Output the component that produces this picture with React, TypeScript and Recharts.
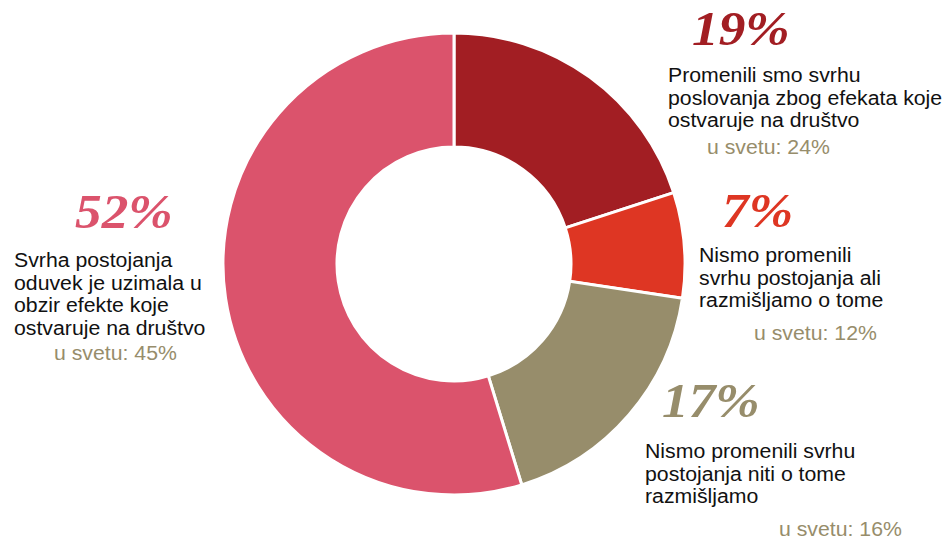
import React from 'react';
import { PieChart, Pie, Cell } from 'recharts';

const labels = [
  'Promenili smo svrhu\nposlovanja zbog efekata koje\nostvaruje na društvo',
  'Nismo promenili\nsvrhu postojanja ali\nrazmišljamo o tome',
  'Nismo promenili svrhu\npostojanja niti o tome\nrazmišljamo',
  'Svrha postojanja\noduvek je uzimala u\nobzir efekte koje\nostvaruje na društvo',
];
const values = [19, 7, 17, 52];
const worldValues = [24, 12, 16, 45];
const colors = ['#A21E23', '#DE3623', '#978D6B', '#DB536C'];

// label block positions (page px)
const layout = [
  { pctX: 692, pctY: 5, textX: 668, textY: 64, worldX: 707, worldY: 136 },
  { pctX: 722, pctY: 187, textX: 699, textY: 244, worldX: 754, worldY: 322 },
  { pctX: 662, pctY: 377, textX: 645, textY: 440, worldX: 779, worldY: 518 },
  { pctX: 75, pctY: 188, textX: 14, textY: 249, worldX: 54, worldY: 342 },
];

const data = labels.map((name, i) => ({ name, value: values[i] }));

const sansText: React.CSSProperties = {
  position: 'absolute',
  fontFamily: '"Liberation Sans", Arial, sans-serif',
  fontSize: 19.5,
  lineHeight: '22.7px',
  transform: 'scaleX(1.09)',
  transformOrigin: 'left top',
};

export default function App() {
  return (
    <div style={{ position: 'absolute', left: 0, top: 0, width: 949, height: 539, background: '#fff' }}>
      <PieChart width={949} height={539} margin={{ top: 0, right: 0, bottom: 0, left: 0 }}>
        <Pie
          data={data}
          dataKey="value"
          cx={454}
          cy={264}
          innerRadius={117}
          outerRadius={231}
          startAngle={90}
          endAngle={-270}
          stroke="#fff"
          strokeWidth={3}
          isAnimationActive={false}
        >
          {data.map((d, i) => (
            <Cell key={d.name} fill={colors[i]} />
          ))}
        </Pie>
      </PieChart>

      {layout.map((p, i) => (
        <React.Fragment key={i}>
          <div
            style={{
              position: 'absolute', left: p.pctX, top: p.pctY,
              fontFamily: '"Liberation Serif", serif', fontStyle: 'italic', fontWeight: 'bold',
              fontSize: 48, lineHeight: '48px', color: colors[i], whiteSpace: 'nowrap',
              transform: 'scaleX(1.11)', transformOrigin: 'left top',
            }}
          >
            {values[i]}%
          </div>
          <div style={{ ...sansText, left: p.textX, top: p.textY, color: '#111', whiteSpace: 'pre' }}>
            {labels[i]}
          </div>
          <div style={{ ...sansText, left: p.worldX, top: p.worldY, color: '#978D6B', whiteSpace: 'nowrap' }}>
            u svetu: {worldValues[i]}%
          </div>
        </React.Fragment>
      ))}
    </div>
  );
}
